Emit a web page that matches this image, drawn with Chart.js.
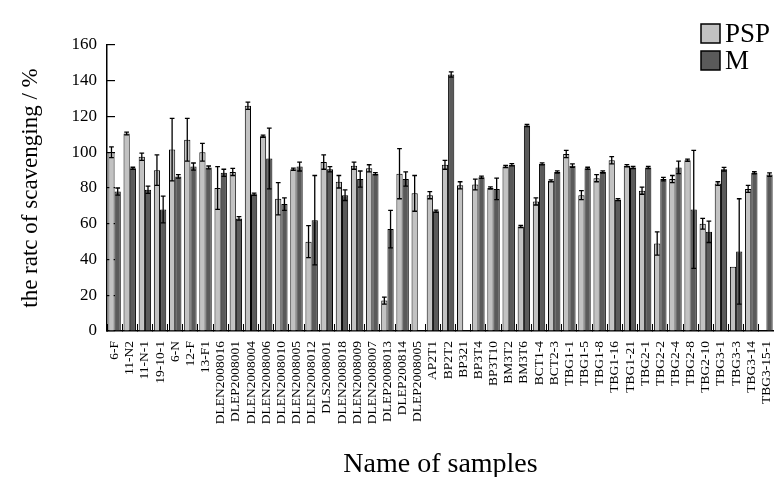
<!DOCTYPE html>
<html>
<head>
<meta charset="utf-8">
<script src="https://cdn.jsdelivr.net/npm/chart.js@4.4.1/dist/chart.umd.min.js"></script>
<style>
  html, body { margin: 0; padding: 0; background: #fff; }
</style>
</head>
<body>
<canvas id="chart" width="774" height="477"></canvas>
<script>
/* categories */
const samples = [
  "6-F", "11-N2", "11-N-1", "19-10-1", "6-N", "12-F", "13-F1",
  "DLEN2008016", "DLEP2008001", "DLEN2008004", "DLEN2008006", "DLEN2008010",
  "DLEN2008005", "DLEN2008012", "DLS2008001", "DLEN2008018", "DLEN2008009",
  "DLEN2008007", "DLEP2008013", "DLEP200814", "DLEP2008005",
  "AP2T1", "BP2T2", "BP321", "BP3T4", "BP3T10", "BM3T2", "BM3T6", "BCT1-4", "BCT2-3",
  "TBG1-1", "TBG1-5", "TBG1-8", "TBG1-16", "TBG1-21", "TBG2-1", "TBG2-2",
  "TBG2-4", "TBG2-8", "TBG2-10", "TBG3-1", "TBG3-3", "TBG3-14", "TBG3-15-1"
];

/* PSP */
const pspValues = [
  100, 110.5, 97.5, 90, 101.5, 107, 100,
  80, 89, 126, 109, 74,
  90.5, 50, 94.5, 83.5, 92.5,
  91, 17, 88, 77,
  76, 93, 81.5, 82, 80, 92, 58.5, 72.5, 84,
  99, 76, 85.5, 95.5, 92.5, 78.5, 49,
  85, 95.5, 60, 82.5, 36, 79.5, null
];
const pspErrors = [
  3, 0.8, 2, 8.5, 17.5, 12, 5,
  12, 2, 2, 0.6, 9,
  0.6, 9, 4, 3.5, 2,
  2, 2, 14, 10,
  2, 2.5, 2, 3, 0.6, 0.6, 0.6, 2, 0.6,
  2, 2.5, 2, 2, 0.6, 2, 6.5,
  2, 0.6, 3, 1, 0, 2, 0
];

/* M */
const mValues = [
  78, 91, 79, 68, 86.5, 92, 91.5,
  88.5, 63, 76.5, 96.5, 71,
  92, 62, 90.5, 76, 85,
  88, 57, 85, null,
  67, 143.5, null, 86, 79.5, 93, 115, 93.5, 89,
  92.5, 91, 89, 73.5, 91.5, 91.5, 85,
  91.5, 68, 55.5, 90.5, 44.5, 88.5, 87.5
];
const mErrors = [
  2, 0.6, 2, 7.5, 1, 2, 0.8,
  2, 1, 0.6, 17, 3.5,
  2.5, 25, 1.5, 3, 4.5,
  0.6, 10.5, 4, 0,
  0.6, 1.5, 0, 0.6, 6, 0.6, 0.6, 0.6, 0.6,
  1, 0.6, 0.6, 0.6, 0.6, 0.6, 1,
  3.5, 33, 6, 1, 29.5, 0.6, 1
];

/* axis */
const yMin = 0;
const yMax = 160;
const yStep = 20;

const SERIF = "'Liberation Serif', 'Times New Roman', serif";

/* error bars on each bar */
const errorBars = {
  id: "errorBars",
  afterDatasetsDraw(chart) {
    const ctx = chart.ctx;
    const y = chart.scales.y;
    chart.data.datasets.forEach((ds, di) => {
      const meta = chart.getDatasetMeta(di);
      meta.data.forEach((bar, i) => {
        const v = ds.data[i];
        const e = ds.errors[i];
        if (v == null || !e) return;
        const top = y.getPixelForValue(v + e);
        const bot = y.getPixelForValue(v - e);
        const cap = bar.width * 0.38;
        ctx.save();
        ctx.strokeStyle = "#000";
        ctx.lineWidth = 1.3;
        ctx.beginPath();
        ctx.moveTo(bar.x, top);
        ctx.lineTo(bar.x, bot);
        ctx.moveTo(bar.x - cap, top);
        ctx.lineTo(bar.x + cap, top);
        ctx.moveTo(bar.x - cap, bot);
        ctx.lineTo(bar.x + cap, bot);
        ctx.stroke();
        ctx.restore();
      });
    });
  }
};

/* legend top right, boxes stacked */
const sideLegend = {
  id: "sideLegend",
  afterDraw(chart) {
    const ctx = chart.ctx;
    ctx.save();
    ctx.font = "27px " + SERIF;
    ctx.textBaseline = "middle";
    chart.data.datasets.forEach((ds, i) => {
      const bx = 701, by = 24 + i * 27;
      ctx.fillStyle = ds.backgroundColor;
      ctx.fillRect(bx, by, 19, 19);
      ctx.strokeStyle = "#000";
      ctx.lineWidth = 1.5;
      ctx.strokeRect(bx, by, 19, 19);
      ctx.fillStyle = "#000";
      ctx.fillText(ds.label, bx + 24, by + 11);
    });
    ctx.restore();
  }
};

new Chart(document.getElementById("chart"), {
  type: "bar",
  data: {
    labels: samples,
    datasets: [
      {
        label: "PSP",
        data: pspValues,
        errors: pspErrors,
        backgroundColor: "#c2c2c2",
        borderColor: "#000",
        borderWidth: 1
      },
      {
        label: "M",
        data: mValues,
        errors: mErrors,
        backgroundColor: "#5a5a5a",
        borderColor: "#000",
        borderWidth: 1
      }
    ]
  },
  options: {
    responsive: false,
    animation: false,
    devicePixelRatio: 1,
    categoryPercentage: 0.82,
    barPercentage: 1.0,
    layout: { padding: { top: 45, left: 0, right: 0, bottom: 0 } },
    plugins: {
      legend: { display: false },
      tooltip: { enabled: false }
    },
    scales: {
      x: {
        offset: true,
        grid: {
          offset: true,
          drawOnChartArea: false,
          drawTicks: true,
          tickLength: -7,
          color: "#000",
          lineWidth: 1
        },
        border: { color: "#000", width: 1.5 },
        ticks: {
          autoSkip: false,
          minRotation: 90,
          maxRotation: 90,
          padding: 17,
          color: "#000",
          font: { family: SERIF, size: 13.5 }
        },
        title: {
          display: true,
          text: "Name of samples",
          color: "#000",
          font: { family: SERIF, size: 28, lineHeight: 0.9 },
          padding: { top: 0, bottom: 0 }
        },
        afterFit(scale) {
          scale.height = 146;
          scale.paddingLeft = 0;
          scale.paddingRight = 0;
        }
      },
      y: {
        min: yMin,
        max: yMax,
        grid: {
          drawOnChartArea: false,
          drawTicks: true,
          tickLength: -8,
          color: "#000",
          lineWidth: 1.2
        },
        border: { color: "#000", width: 1.5 },
        ticks: {
          stepSize: yStep,
          padding: 18,
          color: "#000",
          font: { family: SERIF, size: 17 }
        },
        title: {
          display: true,
          text: "the ratc of scavenging / %",
          color: "#000",
          font: { family: SERIF, size: 23 },
          padding: { top: 17, bottom: 0 }
        },
        afterFit(scale) {
          scale.width = 107;
          scale.paddingTop = 0;
          scale.paddingBottom = 0;
        }
      }
    }
  },
  plugins: [errorBars, sideLegend]
});
</script>
</body>
</html>
